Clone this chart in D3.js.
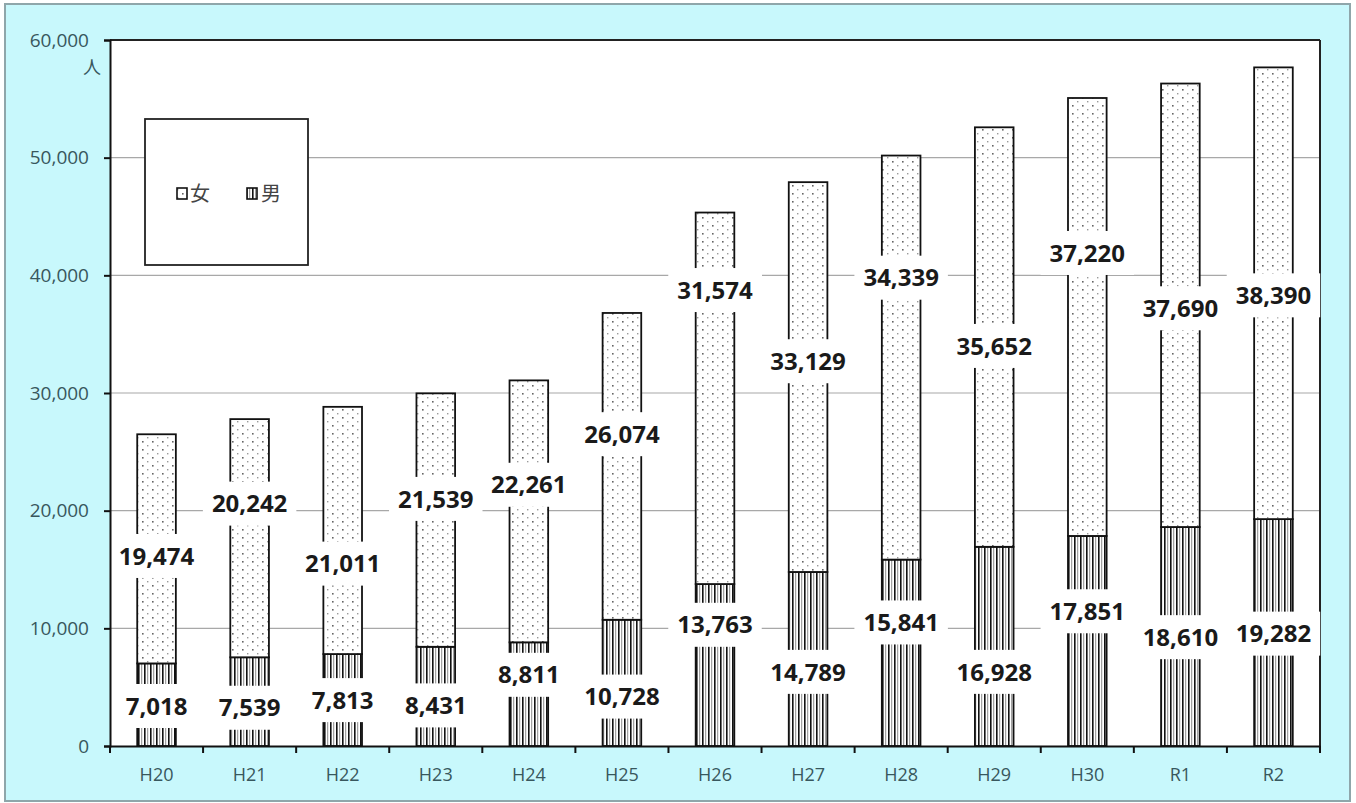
<!DOCTYPE html>
<html>
<head>
<meta charset="utf-8">
<script src="https://cdn.jsdelivr.net/npm/d3@7/dist/d3.min.js"></script>
<style>
  html, body { margin: 0; padding: 0; background: #ffffff; }
  svg { display: block; }
</style>
</head>
<body>
<script>
// ---- data ----
const categories = ["H20","H21","H22","H23","H24","H25","H26","H27","H28","H29","H30","R1","R2"];
const female = [19474, 20242, 21011, 21539, 22261, 26074, 31574, 33129, 34339, 35652, 37220, 37690, 38390];
const male   = [7018, 7539, 7813, 8431, 8811, 10728, 13763, 14789, 15841, 16928, 17851, 18610, 19282];
// value (in 人) at which each data label is centred, as placed in the original
const femaleLabelAt = [16150, 20600, 15500, 21000, 22200, 26500, 38750, 32700, 39800, 34000, 41900, 37200, 38300];
const maleLabelAt   = [3400, 3250, 3900, 3450, 6050, 4200, 10300, 6300, 10500, 6300, 11450, 9250, 9550];
const yTicks = [0, 10000, 20000, 30000, 40000, 50000, 60000];
const seriesNames = ["女", "男"];
const unitLabel = "人";

const W = 1356, H = 803;
const plot = { left: 110, right: 1320, top: 40, bottom: 746 };

const svg = d3.select("body").append("svg").attr("width", W).attr("height", H);

// patterns
const defs = svg.append("defs");
const pf = defs.append("pattern").attr("id", "dots").attr("patternUnits", "userSpaceOnUse")
  .attr("width", 10).attr("height", 8);
pf.append("rect").attr("width", 10).attr("height", 8).attr("fill", "#fff");
pf.append("rect").attr("x", 2).attr("y", 1).attr("width", 1.6).attr("height", 1.6).attr("fill", "#666");
pf.append("rect").attr("x", 7).attr("y", 5).attr("width", 1.4).attr("height", 1.4).attr("fill", "#9a9a9a");

const pm = defs.append("pattern").attr("id", "vlines").attr("patternUnits", "userSpaceOnUse")
  .attr("width", 6).attr("height", 6);
pm.append("rect").attr("width", 6).attr("height", 6).attr("fill", "#fff");
pm.append("rect").attr("x", 0).attr("y", 0).attr("width", 1.6).attr("height", 6).attr("fill", "#111");
pm.append("rect").attr("x", 3.2).attr("y", 0).attr("width", 1).attr("height", 6).attr("fill", "#8a8a8a");

// outer background
svg.append("rect").attr("x", 5).attr("y", 4).attr("width", 1345).attr("height", 797)
  .attr("fill", "#c8f8fc").attr("stroke", "#8fa6aa").attr("stroke-width", 2);

// plot background
svg.append("rect").attr("x", plot.left).attr("y", plot.top)
  .attr("width", plot.right - plot.left).attr("height", plot.bottom - plot.top)
  .attr("fill", "#fff");

// scales
const x = d3.scaleBand().domain(categories).range([plot.left, plot.right])
  .paddingInner(0.585).paddingOuter(0.2925);
const y = d3.scaleLinear().domain([0, 60000]).range([plot.bottom, plot.top]);

// gridlines
svg.append("g").selectAll("line").data(yTicks.filter(v => v > 0 && v < 60000)).join("line")
  .attr("x1", plot.left).attr("x2", plot.right)
  .attr("y1", d => y(d)).attr("y2", d => y(d))
  .attr("stroke", "#a8a8a8").attr("stroke-width", 1.2);

// stacked data
const rows = categories.map((c, i) => ({ cat: c, male: male[i], female: female[i] }));
const stack = d3.stack().keys(["male", "female"])(rows);

const bars = svg.append("g");
bars.selectAll("rect.m").data(stack[0]).join("rect").attr("class", "m")
  .attr("x", d => x(d.data.cat)).attr("width", x.bandwidth())
  .attr("y", d => y(d[1])).attr("height", d => y(d[0]) - y(d[1]))
  .attr("fill", "url(#vlines)").attr("stroke", "#111").attr("stroke-width", 1.8);
bars.selectAll("rect.f").data(stack[1]).join("rect").attr("class", "f")
  .attr("x", d => x(d.data.cat)).attr("width", x.bandwidth())
  .attr("y", d => y(d[1])).attr("height", d => y(d[0]) - y(d[1]))
  .attr("fill", "url(#dots)").attr("stroke", "#111").attr("stroke-width", 1.8);

// plot border top / right
svg.append("line").attr("x1", plot.left).attr("x2", plot.right).attr("y1", plot.top).attr("y2", plot.top)
  .attr("stroke", "#222").attr("stroke-width", 2);
svg.append("line").attr("x1", plot.right).attr("x2", plot.right).attr("y1", plot.top).attr("y2", plot.bottom)
  .attr("stroke", "#222").attr("stroke-width", 2);

// data labels
const labelFont = "'Open Sans', 'Lato', sans-serif";
const labels = [];
categories.forEach((c, i) => {
  labels.push({ cat: c, v: female[i], at: femaleLabelAt[i] });
  labels.push({ cat: c, v: male[i], at: maleLabelAt[i] });
});
const lg = svg.append("g");
const lab = lg.selectAll("g").data(labels).join("g")
  .attr("transform", d => `translate(${x(d.cat) + x.bandwidth() / 2},${y(d.at)})`);
lab.append("text")
  .attr("text-anchor", "middle").attr("dy", "0.36em")
  .attr("font-family", labelFont).attr("font-weight", 700).attr("font-size", 24)
  .attr("fill", "#1a1a1a")
  .text(d => d3.format(",")(d.v));
lab.each(function () {
  const g = d3.select(this);
  const bb = g.select("text").node().getBBox();
  g.insert("rect", "text").attr("x", bb.x - 9).attr("y", -22)
    .attr("width", bb.width + 18).attr("height", 44).attr("fill", "#fff");
});

// y axis
const yAxis = svg.append("g").attr("transform", `translate(${plot.left},0)`)
  .call(d3.axisLeft(y).tickValues(yTicks).tickFormat(d3.format(",")).tickSize(6).tickPadding(15));
yAxis.select(".domain").attr("stroke", "#111").attr("stroke-width", 2);
yAxis.selectAll(".tick line").attr("stroke", "#111").attr("stroke-width", 2);
yAxis.selectAll(".tick text").attr("font-family", "'Open Sans', sans-serif").attr("font-size", 19)
  .attr("fill", "#38575d");

svg.append("text").attr("x", 92).attr("y", 68).attr("text-anchor", "middle").attr("dy", "0.35em")
  .attr("font-family", "'Noto Sans CJK JP', sans-serif").attr("font-size", 18).attr("fill", "#38575d")
  .text(unitLabel);

// x axis
const xAxis = svg.append("g").attr("transform", `translate(0,${plot.bottom})`)
  .call(d3.axisBottom(x).tickSize(0).tickPadding(22));
xAxis.select(".domain").attr("stroke", "#111").attr("stroke-width", 2.2);
xAxis.selectAll(".tick text").attr("font-family", "'Open Sans', sans-serif").attr("font-size", 18)
  .attr("fill", "#38575d");
// boundary ticks between categories
const step = x.step();
const bounds = categories.map(c => x(c) - (step - x.bandwidth()) / 2).concat([plot.right]);
svg.append("g").selectAll("line").data(bounds).join("line")
  .attr("x1", d => d).attr("x2", d => d).attr("y1", plot.bottom).attr("y2", plot.bottom + 7)
  .attr("stroke", "#111").attr("stroke-width", 2);

// legend
const leg = svg.append("g");
leg.append("rect").attr("x", 145).attr("y", 119).attr("width", 163).attr("height", 146)
  .attr("fill", "#fff").attr("stroke", "#222").attr("stroke-width", 1.8);
const legItems = [
  { name: seriesNames[0], fill: "url(#dots)", sx: 177, tx: 190 },
  { name: seriesNames[1], fill: "url(#vlines)", sx: 247, tx: 261 }
];
legItems.forEach(it => {
  leg.append("rect").attr("x", it.sx).attr("y", 188).attr("width", 10).attr("height", 11)
    .attr("fill", it.fill).attr("stroke", "#111").attr("stroke-width", 1.6);
  leg.append("text").attr("x", it.tx).attr("y", 194).attr("dy", "0.36em")
    .attr("font-family", "'Noto Sans CJK JP', sans-serif").attr("font-size", 20).attr("fill", "#444")
    .text(it.name);
});
</script>
</body>
</html>
